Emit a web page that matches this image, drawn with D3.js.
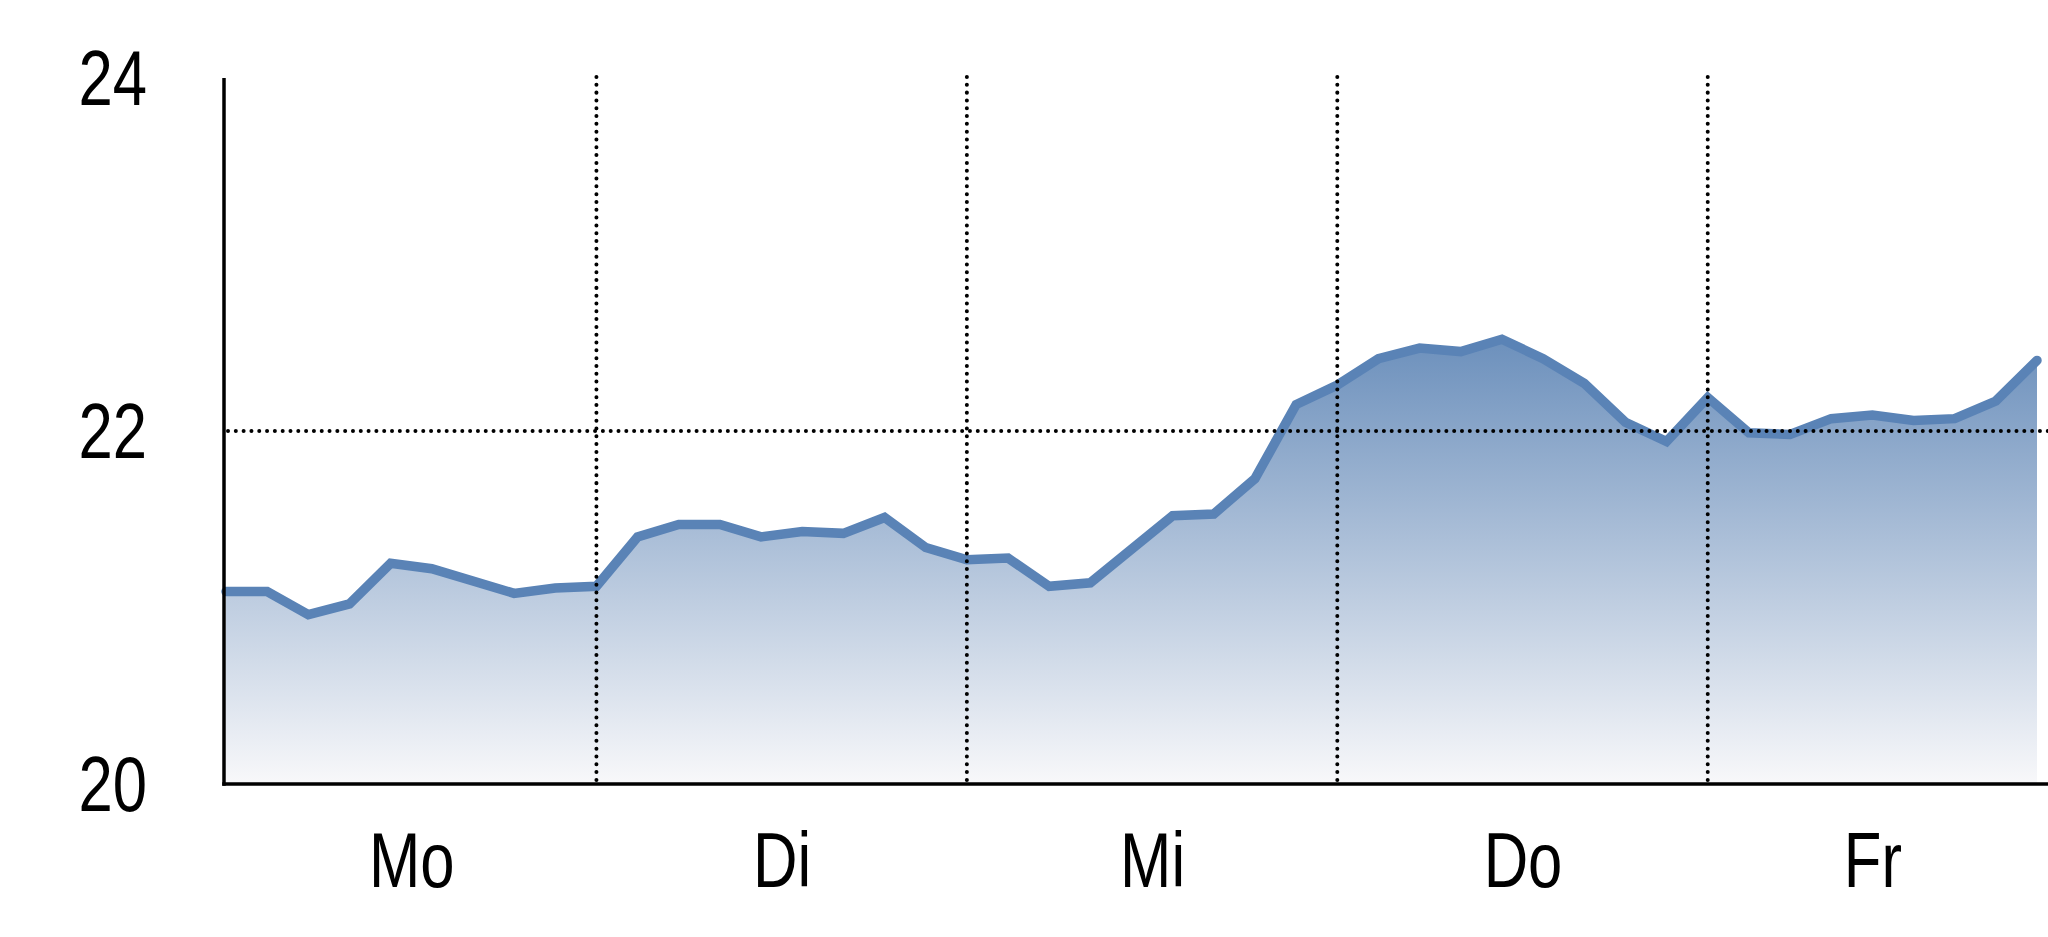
<!DOCTYPE html>
<html>
<head>
<meta charset="utf-8">
<script src="https://cdn.jsdelivr.net/npm/d3@7"></script>
<style>
  html, body { margin: 0; padding: 0; background: #ffffff; }
  svg { display: block; }
  .lbl { font-family: "Liberation Sans Narrow", "Arial Narrow", "Liberation Sans", sans-serif; fill: #000; }
</style>
</head>
<body>
<svg id="chart" width="2048" height="937"></svg>
<script>
// ---- data ----
const values = [
  21.09, 21.09, 20.96, 21.02, 21.25, 21.22, 21.15, 21.08, 21.11,
  21.12, 21.40, 21.47, 21.47, 21.40, 21.43, 21.42, 21.51, 21.34,
  21.27, 21.28, 21.12, 21.14, 21.33, 21.52, 21.53, 21.73, 22.15,
  22.26, 22.41, 22.47, 22.45, 22.52, 22.41, 22.27, 22.05, 21.94,
  22.19, 21.99, 21.98, 22.07, 22.09, 22.06, 22.07, 22.17, 22.40
];
const days = ["Mo", "Di", "Mi", "Do", "Fr"];
const dayBoundaries = [0, 9, 18, 27, 36, 44];   // sample indices
const yTicks = [20, 22, 24];
const yGrid = [22];

// ---- layout ----
const svg = d3.select("#chart");
const x = d3.scaleLinear().domain([0, values.length - 1]).range([226, 2037]);
const y = d3.scaleLinear().domain([20, 24]).range([784, 78]);
const axisX0 = 224, axisX1 = 2048;
const squeeze = 0.8;   // condensed look for the labels

// gradient
const defs = svg.append("defs");
const grad = defs.append("linearGradient")
  .attr("id", "fillGrad").attr("x1", 0).attr("y1", 0).attr("x2", 0).attr("y2", 1);
grad.append("stop").attr("offset", "0%").attr("stop-color", "#6c90bc");
grad.append("stop").attr("offset", "100%").attr("stop-color", "#f8f8fa");

const pts = values.map((v, i) => [i, v]);

// area
svg.append("path")
  .datum(pts)
  .attr("fill", "url(#fillGrad)")
  .attr("d", d3.area().x(d => x(d[0])).y0(y(20)).y1(d => y(d[1])));

// line
svg.append("path")
  .datum(pts)
  .attr("fill", "none")
  .attr("stroke", "#5a83b6")
  .attr("stroke-width", 9.5)
  .attr("stroke-linejoin", "miter")
  .attr("stroke-linecap", "round")
  .attr("d", d3.line().x(d => x(d[0])).y(d => y(d[1])));

// dotted grid (on top)
const dotStyle = sel => sel
  .attr("stroke", "#000")
  .attr("stroke-width", 4)
  .attr("stroke-linecap", "round")
  .attr("stroke-dasharray", "0.01 7.8");

svg.append("g").selectAll("line")
  .data(dayBoundaries.slice(1, -1))
  .join("line")
  .attr("x1", d => x(d)).attr("x2", d => x(d))
  .attr("y1", y(24) - 1).attr("y2", y(20))
  .call(dotStyle);

svg.append("g").selectAll("line")
  .data(yGrid)
  .join("line")
  .attr("x1", axisX0 + 4).attr("x2", axisX1)
  .attr("y1", d => y(d)).attr("y2", d => y(d))
  .call(dotStyle);

// axes lines
svg.append("line")
  .attr("x1", axisX0).attr("x2", axisX0)
  .attr("y1", y(24)).attr("y2", y(20) + 1.75)
  .attr("stroke", "#000").attr("stroke-width", 3.5);
svg.append("line")
  .attr("x1", axisX0 - 1.75).attr("x2", axisX1)
  .attr("y1", y(20)).attr("y2", y(20))
  .attr("stroke", "#000").attr("stroke-width", 3.5);

// y tick labels via d3 axis
const yAxis = svg.append("g")
  .attr("transform", `translate(${axisX0},0)`)
  .call(d3.axisLeft(y).tickValues(yTicks).tickSize(0).tickFormat(d3.format("d")));
yAxis.select(".domain").remove();
yAxis.selectAll("text")
  .attr("class", "lbl")
  .attr("font-size", 77)
  .attr("dy", null)
  .attr("x", -77 / squeeze)
  .attr("y", 26)
  .attr("transform", `scale(${squeeze},1)`)
  .attr("fill", "#000");

// x labels via d3 axis
const mids = days.map((d, i) => (dayBoundaries[i] + dayBoundaries[i + 1]) / 2);
const xAxis = svg.append("g")
  .attr("transform", `translate(0,${y(20)})`)
  .call(d3.axisBottom(x).tickValues(mids).tickSize(0).tickFormat((d, i) => days[i]));
xAxis.select(".domain").remove();
xAxis.selectAll("text")
  .attr("class", "lbl")
  .attr("font-size", 77)
  .attr("dy", null)
  .attr("y", 103)
  .attr("transform", `scale(${squeeze},1)`)
  .attr("fill", "#000");
</script>
</body>
</html>
